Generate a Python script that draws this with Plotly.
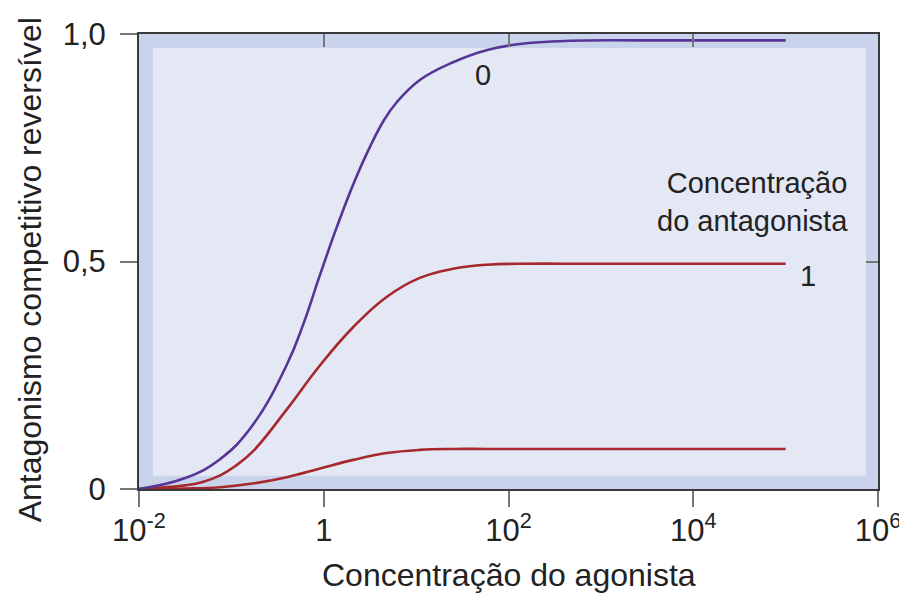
import plotly.graph_objects as go

# ---- data ----
# log10 of agonist concentration for each sample point
purple_logx = [-2.0, -1.5, -1.12, -0.77, -0.4, -0.22, -0.04, 0.14, 0.32, 0.5, 0.65, 0.79, 1.04, 1.4, 1.77, 2.12, 2.66, 3.5, 5.0]
purple_y = [0.0, 0.024, 0.066, 0.14, 0.273, 0.363, 0.471, 0.575, 0.67, 0.752, 0.81, 0.85, 0.899, 0.938, 0.965, 0.978, 0.985, 0.986, 0.986]

red1_logx = [-2.0, -1.5, -1.32, -1.12, -0.96, -0.77, -0.4, -0.04, 0.32, 0.68, 1.04, 1.4, 1.77, 2.12, 3.0, 5.0]
red1_y = [0.0, 0.008, 0.015, 0.03, 0.05, 0.082, 0.175, 0.272, 0.356, 0.422, 0.464, 0.484, 0.493, 0.495, 0.495, 0.495]

red2_logx = [-2.0, -1.5, -1.12, -0.77, -0.4, -0.04, 0.32, 0.68, 1.04, 1.4, 1.77, 3.0, 5.0]
red2_y = [0.0, 0.001, 0.004, 0.012, 0.026, 0.045, 0.064, 0.079, 0.086, 0.088, 0.088, 0.088, 0.088]

x_tickvals = [1e-2, 1, 1e2, 1e4, 1e6]
x_ticktext = ["10<sup>-2</sup>", "1", "10<sup>2</sup>", "10<sup>4</sup>", "10<sup>6</sup>"]
y_tickvals = [0, 0.5, 1.0]
y_ticktext = ["0", "0,5", "1,0"]

curve_labels = ["0", "1"]
legend_title = "Concentração<br>do antagonista"
x_title = "Concentração do agonista"
y_title = "Antagonismo competitivo reversível"

FONT = "Liberation Sans, Arial, Helvetica, sans-serif"
TXT = "#222222"
PURPLE = "#553595"
RED = "#a6272c"
BAND = "#c9d4ec"
INNER = "#e4e8f4"

fig = go.Figure()
for lx, ys, col in [(red2_logx, red2_y, RED), (red1_logx, red1_y, RED), (purple_logx, purple_y, PURPLE)]:
    fig.add_trace(go.Scatter(
        x=[10 ** v for v in lx], y=ys, mode="lines",
        line=dict(color=col, width=2.6, shape="spline", smoothing=1.2),
        showlegend=False, hoverinfo="skip"))

# inner lighter panel
fig.add_shape(type="rect", xref="x domain", yref="y domain",
              x0=0.019, x1=0.984, y0=0.029, y1=0.969,
              fillcolor=INNER, line=dict(width=0), layer="below")

fig.add_annotation(x=1.72, y=0.91, xref="x", yref="y", text=curve_labels[0],
                   showarrow=False, font=dict(family=FONT, size=29, color=TXT))
fig.add_annotation(x=5.24, y=0.468, xref="x", yref="y", text=curve_labels[1],
                   showarrow=False, font=dict(family=FONT, size=29, color=TXT))
fig.add_annotation(x=0.962, y=0.631, xref="paper", yref="paper", text=legend_title,
                   showarrow=False, xanchor="right", yanchor="middle", align="right",
                   font=dict(family=FONT, size=29, color=TXT))

# axis titles
fig.add_annotation(x=0.5, y=-0.19, xref="paper", yref="paper", text=x_title,
                   showarrow=False, xanchor="center", yanchor="middle",
                   font=dict(family=FONT, size=32, color=TXT))
fig.add_annotation(x=-0.148, y=0.482, xref="paper", yref="paper", text=y_title,
                   showarrow=False, xanchor="center", yanchor="middle", textangle=-90,
                   font=dict(family=FONT, size=32, color=TXT))

axis_common = dict(showgrid=False, zeroline=False, showline=True, automargin=False,
                   linecolor="#3a3a3a", linewidth=2, mirror=True,
                   tickcolor="#777777", tickwidth=2,
                   tickfont=dict(family=FONT, size=31, color=TXT))

# the page body adds an 8px offset, so margins are shifted to compensate
fig.update_layout(
    width=907, height=593,
    margin=dict(l=131, r=37, t=26, b=112),
    paper_bgcolor="white", plot_bgcolor=BAND,
    font=dict(family=FONT, color=TXT),
    xaxis=dict(type="log", range=[-2, 6], tickmode="array",
               tickvals=x_tickvals, ticktext=x_ticktext,
               ticks="outside", ticklen=16, ticklabelstandoff=-3,
               **axis_common),
    yaxis=dict(range=[0, 1], tickmode="array",
               tickvals=y_tickvals, ticktext=y_ticktext,
               ticks="outside", ticklen=17, ticklabelstandoff=8,
               **axis_common),
    xaxis2=dict(type="log", range=[-2, 6], overlaying="x", side="top",
                tickmode="array", tickvals=x_tickvals, ticks="inside", ticklen=13,
                tickcolor="#777777", tickwidth=2, showticklabels=False, automargin=False,
                showgrid=False, zeroline=False, showline=False),
    yaxis2=dict(range=[0, 1], overlaying="y", side="right",
                tickmode="array", tickvals=y_tickvals, ticks="inside", ticklen=12,
                tickcolor="#777777", tickwidth=2, showticklabels=False, automargin=False,
                showgrid=False, zeroline=False, showline=False),
)
# invisible trace to activate the mirror axes
fig.add_trace(go.Scatter(x=[1], y=[0.5], xaxis="x2", yaxis="y2", mode="markers",
                         marker=dict(opacity=0), showlegend=False, hoverinfo="skip"))

fig.write_html("out.html")
